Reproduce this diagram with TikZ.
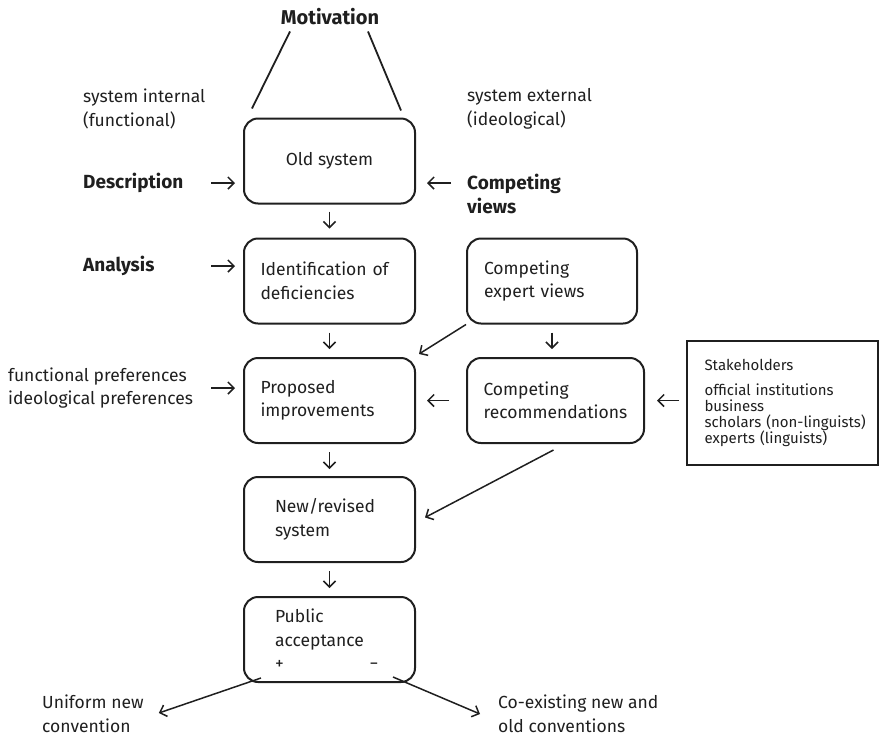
\documentclass[tikz,border=0pt]{standalone}
\usepackage{fontspec}
\setmainfont{Fira Sans}
\usetikzlibrary{arrows.meta,calc}

\begin{document}
\begin{tikzpicture}[x=1pt,y=-1pt,
    every node/.style={inner sep=0pt, text=black!88, font=\fontsize{17.5}{23.5}\selectfont},
    stage/.style={draw=black!88, line width=2pt, rounded corners=14pt, minimum width=171pt, minimum height=85pt, align=left},
    lab/.style={anchor=west, align=left},
    head/.style={lab, font=\fontsize{19}{23.5}\selectfont\bfseries},
    arr/.style={draw=black!88, line width=1.5pt, -{Straight Barb[length=6pt,width=12pt]}}]
    \useasboundingbox (0,0) rectangle (879,737);

    % Motivation
    \node[font=\fontsize{20}{23.5}\selectfont\bfseries] (motiv) at (330,17) {Motivation};
    \node[lab] (sysint) at (83,109) {system internal\\(functional)};
    \node[lab] (sysext) at (467,109) {system external\\(ideological)};

    % Main column
    \node[stage, align=center] (old) at (329.5,161) {Old system};
    \node[stage, text width=138pt] (ident) at (329.5,281) {Identification of\\deficiencies};
    \node[stage, text width=138pt] (prop) at (329.5,400.5) {Proposed\\improvements};
    \node[stage, text width=109pt] (newsys) at (329.5,519.5) {New/revised\\system};
    \node[stage, text width=109pt] (public) at (329.5,639.5) {Public\\acceptance\\+\hspace{86pt}−};

    % Right column
    \node[stage, minimum width=170pt, text width=136pt] (expert) at (552,281) {Competing\\expert views};
    \node[stage, minimum width=177pt, text width=144pt] (comprec) at (555.5,400.5) {Competing\\recommendations};
    \node[draw=black!88, line width=2pt, minimum width=191pt, minimum height=124pt, text width=156pt, align=left,
        font=\fontsize{15}{16}\selectfont] (stake) at (782.5,403)
        {Stakeholders\\[9pt]official institutions\\business\\\mbox{scholars (non-linguists)}\\experts (linguists)};

    % Side labels
    \node[head] (desc) at (83,183) {Description};
    \node[head] (views) at (467,194) {Competing\\views};
    \node[head] (analysis) at (83,266) {Analysis};
    \node[lab] (prefs) at (8,388) {functional preferences\\ideological preferences};
    \node[lab] (uniform) at (42,714) {Uniform new\\convention};
    \node[lab] (coexist) at (498,714) {Co-existing new and\\old conventions};

    % Motivation lines
    \draw[line width=1.8pt, black!88] ($(motiv.south)+(-40,6)$) -- ($(old.north west)+(9,-9)$);
    \draw[line width=1.8pt, black!88] ($(motiv.south)+(38,6)$) -- ($(old.north east)+(-15,-7)$);

    % Arrows from the left
    \draw[arr] ($(old.west |- desc)+(-32,0)$) -- ($(old.west |- desc)+(-8,0)$);
    \draw[arr] ($(ident.west |- analysis)+(-32,0)$) -- ($(ident.west |- analysis)+(-8,0)$);
    \draw[arr] ($(prop.west |- prefs)+(-32,0)$) -- ($(prop.west |- prefs)+(-8,0)$);

    % Arrows from the right
    \draw[arr] ($(old.east |- desc)+(35,0)$) -- ($(old.east |- desc)+(11,0)$);
    \draw[arr] ($(comprec.west)+(-17,0)$) -- ($(prop.east)+(11,0)$);
    \draw[arr] ($(stake.west |- comprec.east)+(-7,0)$) -- ($(comprec.east)+(12,0)$);

    % Down arrows
    \draw[arr] ($(old.south)+(0,7)$) -- ($(ident.north)+(0,-9)$);
    \draw[arr] ($(ident.south)+(0,8)$) -- ($(prop.north)+(0,-8)$);
    \draw[arr] ($(prop.south)+(0,8)$) -- ($(newsys.north)+(0,-7)$);
    \draw[arr] ($(newsys.south)+(0,8)$) -- ($(public.north)+(0,-8)$);
    \draw[arr] ($(expert.south)+(0,8)$) -- ($(expert.south |- comprec.north)+(0,-8)$);

    % Diagonal arrows
    \draw[arr] (expert.south west) -- ($(prop.north east)+(3,-3)$);
    \draw[arr] ($(comprec.south)+(-2,6)$) -- ($(newsys.east)+(9,-2)$);
    \draw[arr] ($(public.south west)+(18,-5)$) -- ($(uniform.east)+(15,-1)$);
    \draw[arr] ($(public.south east)+(-23,-6)$) -- ($(coexist.west)+(-18,0)$);
\end{tikzpicture}
\end{document}
